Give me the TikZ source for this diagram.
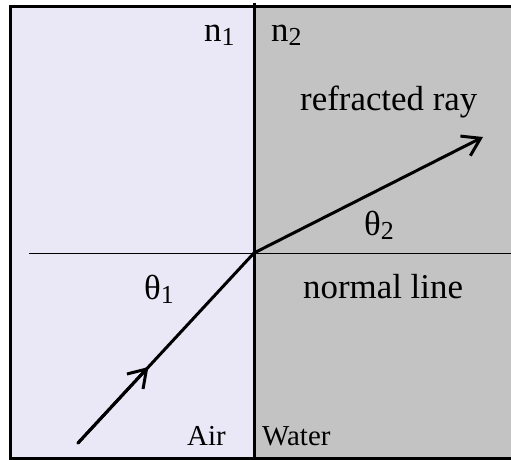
\documentclass[tikz,border=0pt]{standalone}
\usepackage{fontspec}
\setmainfont{Liberation Serif}
\usetikzlibrary{arrows.meta,calc}
\definecolor{airc}{HTML}{EAE8F7}
\definecolor{waterc}{HTML}{C3C3C3}
\newcommand{\subs}[1]{\raisebox{-4bp}{\fontsize{26}{26}\selectfont #1}}
\tikzset{
  lbl/.style={anchor=base west, inner sep=0pt, font=\fontsize{35}{40}\selectfont},
  small/.style={anchor=base west, inner sep=0pt, font=\fontsize{29}{32}\selectfont},
  ray/.style={line width=3bp, line cap=round},
  tip/.style={-{Straight Barb[length=17bp,width=22bp,line width=3bp]}},
}
\begin{document}
\begin{tikzpicture}[x=1bp,y=-1bp]
\useasboundingbox (0,0) rectangle (511,460);
\fill[white] (0,0) rectangle (511,460);
\fill[airc] (10,7) rectangle (254,458);
\fill[waterc] (254,7) rectangle (511,458);
% border
\draw[line width=3bp] (511,7) -- (10,7) -- (10,458) -- (511,458);
% divider
\draw[line width=3bp] (254,3) -- (254,458);
% normal line
\coordinate (NL) at (29,253);
\coordinate (NR) at (511,253);
\draw[line width=1bp] (NL) -- (NR);
% rays
\coordinate (S) at (78,443);
\coordinate (O) at (254,253);
\coordinate (E) at (483,137);
\coordinate (M) at ($(S)!0.40!(O)$);
\draw[ray] (S) -- (O);
\draw[ray, tip] (S) -- (M);
\draw[ray, tip] (O) -- (E);
% labels
\node[lbl] (n1) at (204,42) {n\subs{1}};
\node[lbl] (n2) at (271,42) {n\subs{2}};
\node[lbl] (rr) at (300,111) {refracted ray};
\node[lbl] (th2) at (364,236) {θ\subs{2}};
\node[lbl] (th1) at (144,299) {θ\subs{1}};
\node[lbl] (nl) at (303,298) {normal line};
\node[small] (air) at (187,445) {Air};
\node[small] (water) at (262,445) {Water};
\end{tikzpicture}
\end{document}
